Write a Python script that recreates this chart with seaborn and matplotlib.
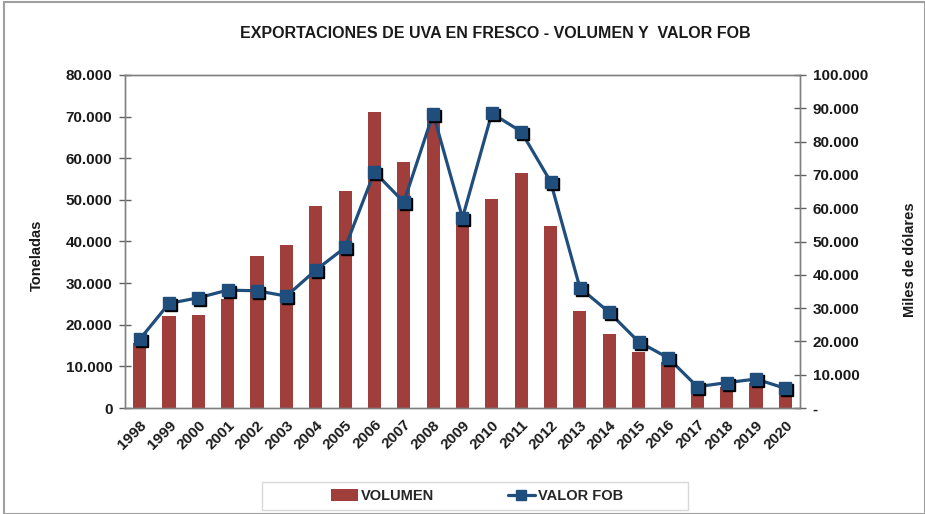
import matplotlib
matplotlib.use("Agg")
import matplotlib.pyplot as plt
import matplotlib.transforms as mtransforms
from matplotlib.patches import Rectangle, Patch
from matplotlib.lines import Line2D
from matplotlib.ticker import FuncFormatter, MultipleLocator, FixedLocator
import seaborn as sns
import numpy as np
import pandas as pd

years = ["1998", "1999", "2000", "2001", "2002", "2003", "2004", "2005", "2006", "2007", "2008",
         "2009", "2010", "2011", "2012", "2013", "2014", "2015", "2016", "2017", "2018", "2019", "2020"]
volumen = [15700, 22000, 22400, 26200, 36600, 39200, 48600, 52100, 71100, 59000, 69800,
           45000, 50100, 56500, 43700, 23400, 17800, 13400, 11100, 4500, 5000, 6000, 4000]
valor_fob = [20600, 31400, 33100, 35400, 35200, 33600, 41400, 48200, 70900, 61800, 88400,
             57100, 88500, 83000, 68000, 36100, 28700, 19900, 15100, 6400, 7600, 8700, 5900]

df = pd.DataFrame({"year": years, "volumen": volumen, "valor": valor_fob})

sns.set_style("white")
plt.rcParams["font.family"] = ["Liberation Sans", "DejaVu Sans"]

BAR = "#A03E3C"
LINE = "#1F4E7D"

fig = plt.figure(figsize=(9.25, 5.14), dpi=100)
ax = fig.add_axes([125/925, 1-408/514, 675/925, 333/514])

sns.barplot(data=df, x="year", y="volumen", color=BAR, width=0.45, ax=ax,
            saturation=1, edgecolor="none")
ax.set_xlim(-0.5, len(years) - 0.5)
ax.set_ylim(0, 80000)
ax.yaxis.set_major_locator(MultipleLocator(10000))

def thou(v, pos):
    if v == 0:
        return "0"
    return f"{int(round(v)):,}".replace(",", ".")

ax.yaxis.set_major_formatter(FuncFormatter(thou))
ax.set_xlabel("")
ax.set_ylabel("")

ax2 = ax.twinx()
x = np.arange(len(years))
shadow_tr = ax2.transData + mtransforms.ScaledTranslation(2/100, -2/100, fig.dpi_scale_trans)
ax2.plot(x, df["valor"], color=LINE, lw=2.3, zorder=4)
ax2.plot(x, df["valor"], ls="none", marker="s", ms=8.5, mfc="black", mec="black", zorder=4.5,
         transform=shadow_tr)
ax2.plot(x, df["valor"], ls="none", marker="s", ms=8.5, mfc=LINE, mec=LINE, zorder=5)
ax2.set_ylim(0, 100000)
ax2.yaxis.set_major_locator(MultipleLocator(10000))
ax2.yaxis.set_major_formatter(FuncFormatter(lambda v, p: "-" if v == 0 else f"{int(round(v)):,}".replace(",", ".")))
ax2.set_ylabel("")

for a in (ax, ax2):
    for s in a.spines.values():
        s.set_color("#808080")
        s.set_linewidth(1.0)
    a.tick_params(labelsize=11, width=1, color="#606060")
    for lab in a.get_yticklabels():
        lab.set_fontweight("bold")
        lab.set_color("#1a1a1a")

ax.tick_params(axis="y", direction="inout", length=8, pad=5)
ax2.tick_params(axis="y", direction="inout", length=8, pad=5)
ax.xaxis.set_major_locator(FixedLocator(np.arange(-0.5, len(years), 1.0)))
ax.xaxis.set_major_formatter(FuncFormatter(lambda v, p: ""))
ax.set_xticks(x, minor=True)
ax.set_xticklabels(years, minor=True, rotation=45, ha="right", rotation_mode="anchor",
                   fontweight="bold", fontsize=11, color="#1a1a1a")
ax.tick_params(axis="x", which="major", direction="out", length=5, color="#606060")
ax.tick_params(axis="x", which="minor", length=0, pad=7)

fig.text(495/925, 1-33/514, "EXPORTACIONES DE UVA EN FRESCO - VOLUMEN Y  VALOR FOB",
         ha="center", va="center", fontsize=11.5, fontweight="bold", color="#1a1a1a")
fig.text(37/925, 1-255/514, "Toneladas", rotation=90, ha="center", va="center",
         fontsize=10.5, fontweight="bold", color="#1a1a1a")
fig.text(910/925, 1-260/514, "Miles de dólares", rotation=90, ha="center", va="center",
         fontsize=10.5, fontweight="bold", color="#1a1a1a")

handles = [Patch(facecolor=BAR, edgecolor="none", label="VOLUMEN"),
           Line2D([0], [0], color=LINE, lw=2.3, marker="s", ms=7, label="VALOR FOB")]
leg = fig.legend(handles=handles, loc="center", bbox_to_anchor=(477/925, 1-496/514),
                 ncol=2, frameon=False, prop={"weight": "bold", "size": 10.5},
                 handlelength=1.9, handleheight=0.9, columnspacing=5, handletextpad=0.2)

fig.patches.append(Rectangle((262/925, 1-510/514), 426/925, 28/514, transform=fig.transFigure,
                             fill=False, edgecolor="#D9D9D9", lw=1))
fig.patches.append(Rectangle((4/925, 0), 1 - 4/925, 1 - 2/514, transform=fig.transFigure,
                             fill=False, edgecolor="#A0A0A0", lw=1.5))

fig.savefig("out.png", dpi=100)
